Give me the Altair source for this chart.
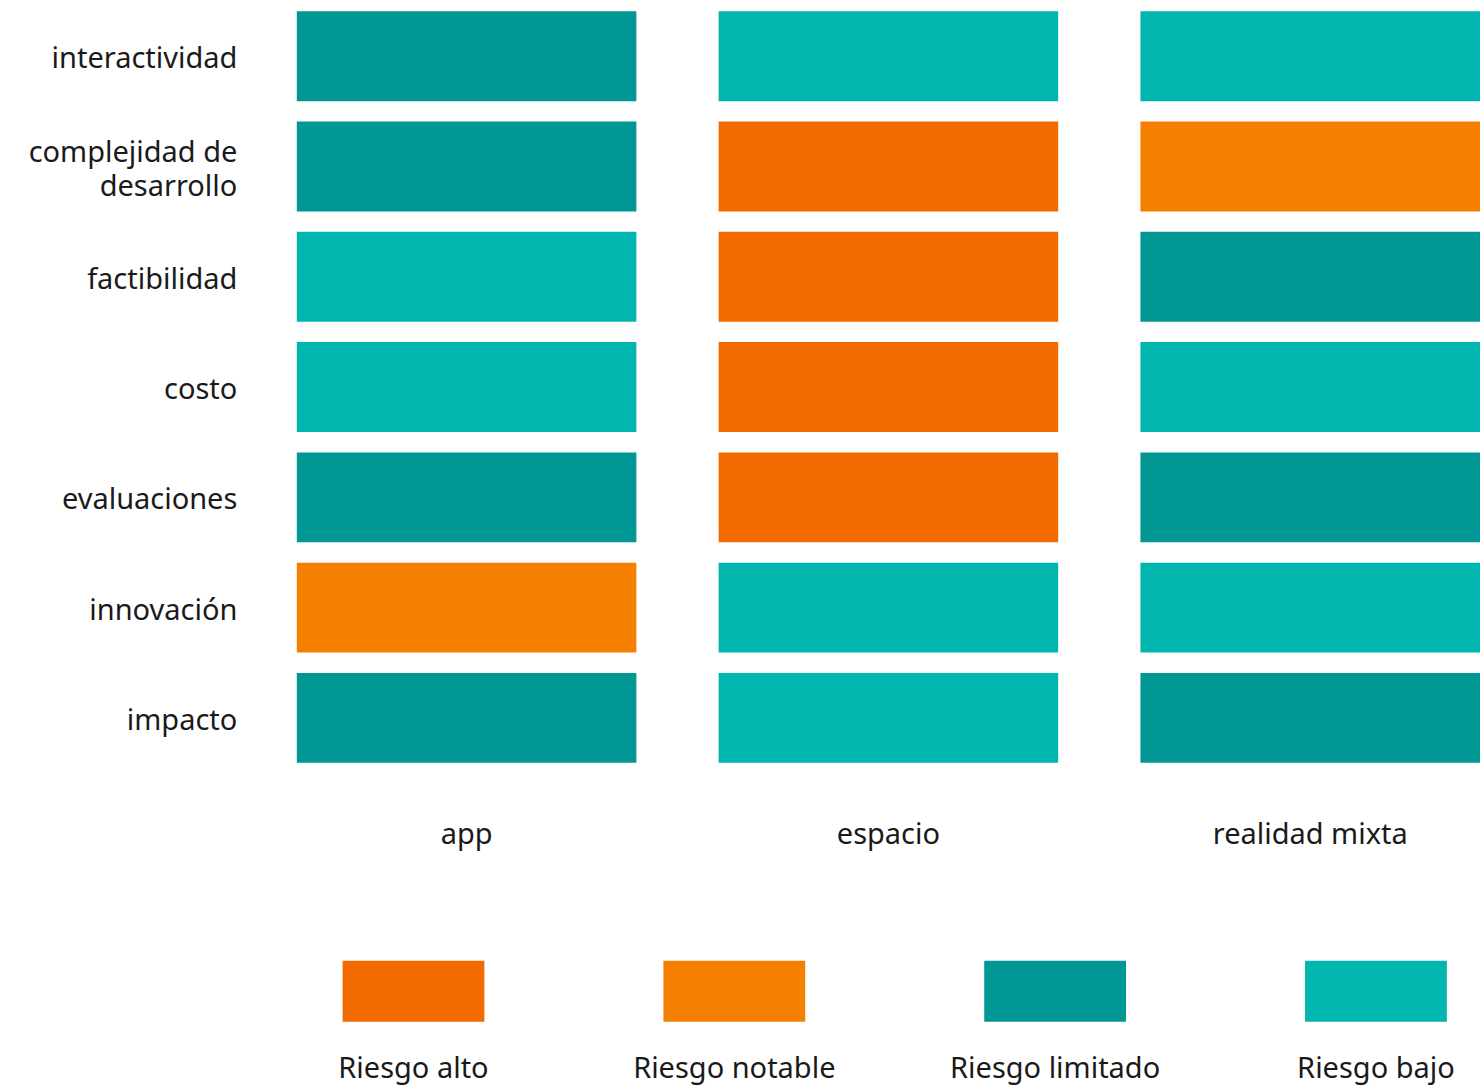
import altair as alt
import pandas as pd

criteria = ["interactividad", "complejidad de desarrollo", "factibilidad", "costo",
            "evaluaciones", "innovación", "impacto"]
concepts = ["app", "espacio", "realidad mixta"]
app_risk = ["Riesgo limitado", "Riesgo limitado", "Riesgo bajo", "Riesgo bajo",
            "Riesgo limitado", "Riesgo notable", "Riesgo limitado"]
espacio_risk = ["Riesgo bajo", "Riesgo alto", "Riesgo alto", "Riesgo alto",
                "Riesgo alto", "Riesgo bajo", "Riesgo bajo"]
mixta_risk = ["Riesgo bajo", "Riesgo notable", "Riesgo limitado", "Riesgo bajo",
              "Riesgo limitado", "Riesgo bajo", "Riesgo limitado"]
levels = ["Riesgo alto", "Riesgo notable", "Riesgo limitado", "Riesgo bajo"]
level_colors = ["#F26A00", "#F58000", "#009794", "#00B6AE"]

rows = []
for concept, risks in zip(concepts, [app_risk, espacio_risk, mixta_risk]):
    for crit, r in zip(criteria, risks):
        rows.append({"criterio": crit, "concepto": concept, "riesgo": r})
df = pd.DataFrame(rows)
legend_df = pd.DataFrame({"riesgo": levels})

FONT = "Noto Sans"
TXT = "#1a1a1a"
FS = 29
color_scale = alt.Scale(domain=levels, range=level_colors)

main = alt.Chart(df).mark_rect().encode(
    x=alt.X("concepto:N", sort=concepts,
            scale=alt.Scale(paddingInner=0.195, paddingOuter=0),
            axis=alt.Axis(orient="bottom", title=None, labelAngle=0, ticks=False, domain=False,
                          labelPadding=58, labelFontSize=FS, labelFont=FONT, labelColor=TXT,
                          labelLimit=600)),
    y=alt.Y("criterio:N", sort=criteria,
            scale=alt.Scale(paddingInner=0.184, paddingOuter=0),
            axis=alt.Axis(title=None, ticks=False, domain=False, labelPadding=60,
                          labelFontSize=FS, labelFont=FONT, labelColor=TXT, labelLimit=600,
                          labelLineHeight=34,
                          labelOffset={"condition": {"test": "datum.value == 'complejidad de desarrollo'",
                                                     "value": -14},
                                       "value": 3},
                          labelExpr="datum.value == 'complejidad de desarrollo' ? ['complejidad de', 'desarrollo'] : datum.value")),
    color=alt.Color("riesgo:N", scale=color_scale, legend=None),
).properties(width=1184, height=752)

legend = alt.Chart(legend_df).mark_rect().encode(
    x=alt.X("riesgo:N", sort=levels,
            scale=alt.Scale(paddingInner=0.558, paddingOuter=0.123, align=0.58),
            axis=alt.Axis(orient="bottom", title=None, labelAngle=0, ticks=False, domain=False,
                          labelPadding=33, labelFontSize=FS, labelFont=FONT, labelColor=TXT,
                          labelLimit=600)),
    color=alt.Color("riesgo:N", scale=color_scale, legend=None),
).properties(width=1184, height=61)

chart = alt.vconcat(main, legend, spacing=111).properties(
    padding={"left": 28, "top": 11, "right": 0, "bottom": 4}
).configure(background="white", view=alt.ViewConfig(stroke="transparent", strokeWidth=0))

chart.save("out.html", embed_options={"renderer": "svg", "actions": False})
